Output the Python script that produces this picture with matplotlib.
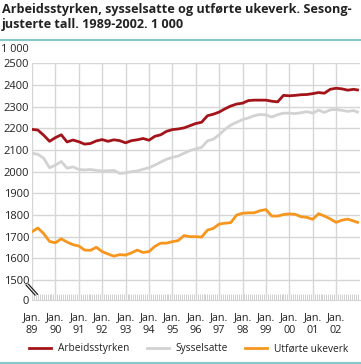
import numpy as np
import pandas as pd
import matplotlib
matplotlib.use("Agg")
import matplotlib.pyplot as plt
from matplotlib.lines import Line2D

plt.rcParams["font.family"] = ["Open Sans", "DejaVu Sans"]

# quarterly readings (Jan, Apr, Jul, Oct) 1989-2002, plus Dec 2002
dates = pd.date_range("1989-01-01", periods=56, freq="QS").append(pd.DatetimeIndex(["2002-12-01"]))

arbeidsstyrken = [
    2195, 2192, 2168, 2140,
    2157, 2170, 2137, 2146,
    2138, 2127, 2130, 2142,
    2148, 2140, 2147, 2143,
    2133, 2143, 2147, 2153,
    2145, 2163, 2170, 2186,
    2194, 2197, 2202, 2212,
    2222, 2228, 2258, 2265,
    2275, 2290, 2303, 2312,
    2316, 2328, 2330, 2330,
    2330, 2325, 2322, 2352,
    2350, 2352, 2355, 2356,
    2360, 2365, 2362, 2380,
    2385, 2382, 2376, 2380,
    2377,
]
sysselsatte = [
    2085, 2080, 2062, 2018,
    2030, 2047, 2016, 2022,
    2010, 2008, 2010, 2006,
    2003, 2004, 2006, 1992,
    1994, 2000, 2003, 2011,
    2018, 2030, 2044, 2057,
    2066, 2072, 2085, 2097,
    2105, 2112, 2142, 2150,
    2170, 2195, 2215, 2228,
    2240, 2248, 2258, 2264,
    2262, 2252, 2263, 2270,
    2270, 2268, 2272, 2277,
    2270, 2284, 2273, 2285,
    2287, 2283, 2278, 2282,
    2275,
]
ukeverk = [
    1723, 1740, 1714, 1678,
    1672, 1690, 1675, 1663,
    1657, 1638, 1637, 1651,
    1631, 1620, 1610, 1617,
    1615, 1625, 1638, 1627,
    1631, 1655, 1670, 1670,
    1677, 1682, 1705, 1700,
    1700, 1698, 1730, 1738,
    1758, 1762, 1765, 1800,
    1808, 1810, 1810, 1820,
    1825, 1795, 1795, 1802,
    1805, 1803, 1792, 1789,
    1780, 1806, 1795, 1782,
    1766, 1776, 1781, 1772,
    1766,
]

series_names = ["Arbeidsstyrken", "Sysselsatte", "Utførte ukeverk"]
colors = ["#a3141a", "#d2d2d2", "#f7961e"]
year_labels = [f"Jan.\n{y % 100:02d}" for y in range(1989, 2003)]
yticks = list(range(1500, 2600, 100))
y_zero = 1410  # where the "0" sits below the axis break

W, H = 361, 364
fig = plt.figure(figsize=(W / 100, H / 100), dpi=100)
ax = fig.add_axes([32 / W, 1 - 299.5 / H, 327.5 / W, (299.5 - 63.3) / H])

x = [d.year + (d.month - 1) / 12 for d in dates]
for vals, c in zip([arbeidsstyrken, sysselsatte, ukeverk], colors):
    ax.plot(x, vals, color=c, linewidth=2.0, solid_joinstyle="round", zorder=3)

ax.set_xlim(1989, 2003)
ax.set_ylim(y_zero, 2500)
ax.set_xticks(range(1989, 2003))
ax.set_xticklabels(year_labels, fontsize=7.8, color="#222222", linespacing=1.3)
ax.set_xticks(np.arange(1989, 2003, 1 / 12), minor=True)
ax.set_yticks([y_zero] + yticks)
ax.set_yticklabels(["0"] + [str(v) for v in yticks], fontsize=8.0, color="#222222")

ax.tick_params(axis="x", which="major", length=0, pad=9)
ax.tick_params(axis="x", which="minor", direction="in", length=4, width=0.6, color="#c8c8c8")
ax.tick_params(axis="y", length=0, pad=2)

for v in yticks:
    ax.axhline(v, color="#d6d6d6", linewidth=1.0, zorder=1)
for yr in range(1989, 2003):
    ax.axvline(yr, color="#d6d6d6", linewidth=1.0, zorder=1)

for s in ax.spines.values():
    s.set_visible(False)
ax.spines["bottom"].set_visible(True)
ax.spines["bottom"].set_color("#d6d6d6")
ax.spines["bottom"].set_linewidth(0.8)

# axis break marks
for off in (0, 2.5):
    fig.add_artist(Line2D([(26 + off) / W, (35 + off) / W],
                          [1 - (285 - off * 0.3) / H, 1 - (295 - off * 0.3) / H],
                          color="#222222", linewidth=0.9))

fig.text(2 / W, 1 - 3 / H, "Arbeidsstyrken, sysselsatte og utførte ukeverk. Sesong-\njusterte tall. 1989-2002. 1 000",
         fontsize=9.1, fontweight="bold", color="#222222", va="top", ha="left", linespacing=1.22)
fig.text(1 / W, 1 - 49 / H, "1 000", fontsize=7.8, color="#222222", va="center", ha="left")

fig.add_artist(Line2D([0, 1], [1 - 40 / H, 1 - 40 / H], color="#84c8c8", linewidth=1.5))
fig.add_artist(Line2D([0, 1], [1 - 362.5 / H, 1 - 362.5 / H], color="#84c8c8", linewidth=1.5))

handles = [Line2D([], [], color=c, linewidth=2.0) for c in colors]
fig.legend(handles, series_names, loc="center left", bbox_to_anchor=(29 / W, 1 - 349 / H),
           ncol=3, frameon=False, fontsize=7.3, handlelength=2.2, handletextpad=0.7,
           columnspacing=1.65, labelcolor="#222222", borderpad=0, borderaxespad=0)

fig.savefig("out.png", dpi=100)
